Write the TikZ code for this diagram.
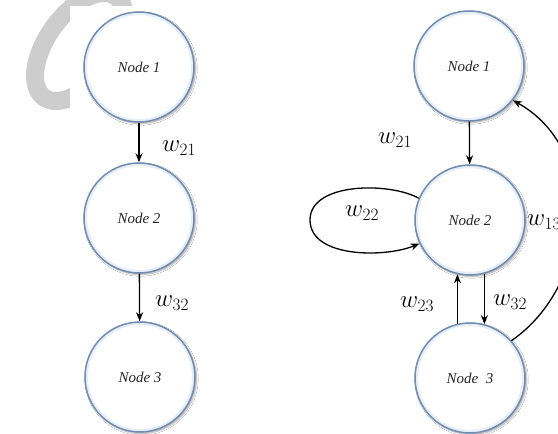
\documentclass[tikz,border=0pt]{standalone}
\usepackage{fontspec}
\newfontfamily\nodefont{Liberation Serif}
\usetikzlibrary{arrows.meta,shadows.blur}
\definecolor{ring}{RGB}{112,140,178}
\definecolor{glow}{RGB}{230,238,248}
\definecolor{wm}{RGB}{205,205,205}
\begin{document}
\begin{tikzpicture}[x=1pt,y=-1pt,
  nd/.style={circle, minimum size=110pt, inner sep=0pt, draw=ring, line width=1.5pt, fill=white,
    blur shadow={shadow xshift=1.5pt, shadow yshift=-1.5pt, shadow blur steps=6, shadow opacity=35},
    path picture={\draw[line width=6pt, glow] (path picture bounding box.center) circle[radius=55pt];},
    font=\nodefont\itshape\fontsize{15}{17}\selectfont, text=black!85},
  arr/.style={-{Stealth[length=9pt,width=7pt]}, line width=1.3pt},
  lbl/.style={inner sep=0pt, anchor=west, font=\fontsize{27}{30}\selectfont}]
\path[use as bounding box, clip] (0,0) rectangle (558,434);
\fill[white] (0,0) rectangle (558,434);
% watermark
\draw[wm, line width=18pt] plot[domain=0:360, samples=120] ({80+38*cos(\x)+24*sin(\x)}, {47-54*sin(\x)}) -- cycle;
\fill[white] (70,6) rectangle (215,434);
% left diagram
\node[nd] (n1) at (139,67) {Node 1};
\node[nd] (n2) at (139,218) {Node 2};
\node[nd] (n3) at (140,377) {Node 3};
\draw[arr] (n1) -- (n2);
\draw[arr] (n2) -- (n3);
\node[lbl] (l21) at (162,148) {$w_{21}$};
\node[lbl] (l32) at (155,303) {$w_{32}$};
% right diagram
\node[nd] (m1) at (469,66) {Node 1};
\node[nd] (m2) at (470,220) {Node 2};
\node[nd] (m3) at (470,378) {Node\ \ 3};
\draw[arr] (m1) -- (m2);
\draw[arr] (m3.103) -- (m2.257);
\draw[arr] (m2.285) -- (m3.75);
\draw[arr] (m2.157) .. controls (390,182) and (310,182) .. (310,220) .. controls (310,258) and (385,258) .. (m2.205);
\draw[arr] (m3.42) .. controls (592,285) and (602,150) .. (m1.322);
\node[lbl] (r21) at (378,140) {$w_{21}$};
\node[lbl] (r22) at (345,213) {$w_{22}$};
\node[lbl] (r23) at (400,304) {$w_{23}$};
\node[lbl] (r32) at (493,302) {$w_{32}$};
\node[lbl] (r13) at (527,222) {$w_{13}$};
\end{tikzpicture}
\end{document}
